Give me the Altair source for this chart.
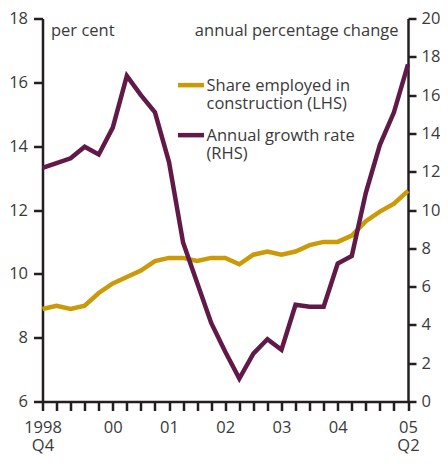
import altair as alt
import pandas as pd

quarters = ["1998 Q4",
            "1999 Q1", "1999 Q2", "1999 Q3", "1999 Q4",
            "2000 Q1", "2000 Q2", "2000 Q3", "2000 Q4",
            "2001 Q1", "2001 Q2", "2001 Q3", "2001 Q4",
            "2002 Q1", "2002 Q2", "2002 Q3", "2002 Q4",
            "2003 Q1", "2003 Q2", "2003 Q3", "2003 Q4",
            "2004 Q1", "2004 Q2", "2004 Q3", "2004 Q4",
            "2005 Q1", "2005 Q2"]

share_lhs = [8.9, 9.0, 8.9, 9.0, 9.4, 9.7, 9.9, 10.1, 10.4, 10.5, 10.5, 10.4, 10.5, 10.5,
             10.3, 10.6, 10.7, 10.6, 10.7, 10.9, 11.0, 11.0, 11.2, 11.65, 11.95, 12.2, 12.6]
growth_rhs = [12.2, 12.45, 12.7, 13.3, 12.9, 14.3, 17.0, 16.0, 15.1, 12.5, 8.3, 6.2, 4.1, 2.6,
              1.2, 2.5, 3.25, 2.7, 5.05, 4.95, 4.95, 7.2, 7.6, 10.9, 13.4, 15.1, 17.6]

series_names = ["Share employed in|construction (LHS)", "Annual growth rate|(RHS)"]
series_colors = ["#cc9a06", "#611a48"]

tick_positions = [0, 5, 9, 13, 17, 21, 26]
tick_texts = ["1998|Q4", "00", "01", "02", "03", "04", "05|Q2"]

left_ticks = [6, 8, 10, 12, 14, 16, 18]
right_ticks = [0, 2, 4, 6, 8, 10, 12, 14, 16, 18, 20]

rows = []
for i, q in enumerate(quarters):
    rows.append({"i": i, "quarter": q, "series": series_names[0], "value": share_lhs[i]})
    rows.append({"i": i, "quarter": q, "series": series_names[1], "value": growth_rhs[i]})
df = pd.DataFrame(rows)

expr = "''"
for p, t in reversed(list(zip(tick_positions, tick_texts))):
    expr = f"datum.value == {p} ? split('{t}', '|') : ({expr})"

FONT = "Open Sans"
TXT = "#3a3a3a"
AX = "#231f20"

x = alt.X("i:Q", scale=alt.Scale(domain=[0, 26], nice=False, zero=False),
          axis=alt.Axis(values=list(range(27)), labelExpr=expr, title=None,
                        labelPadding=9, labelOverlap=False, labelFlush=False,
                        labelLineHeight=18, grid=False))

color = alt.Color("series:N",
                  scale=alt.Scale(domain=series_names, range=series_colors),
                  legend=alt.Legend(title=None, orient="none", legendX=133, legendY=44,
                                    symbolType="M-1,0.55H1", symbolSize=676,
                                    symbolStrokeWidth=4.5, labelFontSize=16.5,
                                    labelBaseline="top", labelExpr="split(datum.label, '|')",
                                    labelColor=TXT, labelFont=FONT, labelOffset=0,
                                    rowPadding=-1, labelLimit=400, padding=0))

left = alt.Chart(df).transform_filter(alt.datum.series == series_names[0]).mark_line(
    strokeWidth=4.5).encode(
    x=x,
    y=alt.Y("value:Q", scale=alt.Scale(domain=[6, 18], nice=False, zero=False),
            axis=alt.Axis(values=left_ticks, orient="left", title="per cent",
                          titleAngle=0, titleX=8, titleY=17, titleAlign="left",
                          titleBaseline="alphabetic", grid=False)),
    color=color,
)

right = alt.Chart(df).transform_filter(alt.datum.series == series_names[1]).mark_line(
    strokeWidth=4.5).encode(
    x=x,
    y=alt.Y("value:Q", scale=alt.Scale(domain=[0, 20], nice=False, zero=True),
            axis=alt.Axis(values=right_ticks, orient="right", title="annual percentage change",
                          titleAngle=0, titleX=-10, titleY=17, titleAlign="right",
                          titleBaseline="alphabetic", grid=False,
                          tickSize=8, labelPadding=5)),
    color=color,
)

chart = alt.layer(left, right).resolve_scale(y="independent").properties(
    width=365.5, height=383,
    autosize=alt.AutoSizeParams(type="none"),
    padding={"left": 34.5, "top": 10.5, "right": 32, "bottom": 54.5},
).configure(
    background="white",
    style={"guide-label": {"lineHeight": 18}},
    view=alt.ViewConfig(stroke=None),
    axis=alt.AxisConfig(
        domainColor=AX, domainWidth=2.5, tickColor=AX, tickWidth=2.5, tickSize=9,
        labelColor=TXT, labelFont=FONT, labelFontSize=16.5, labelPadding=6,
        titleColor=TXT, titleFont=FONT, titleFontSize=16.5, titleFontWeight="normal",
    ),
)

chart.save("out.html", embed_options={"renderer": "svg", "actions": False})
